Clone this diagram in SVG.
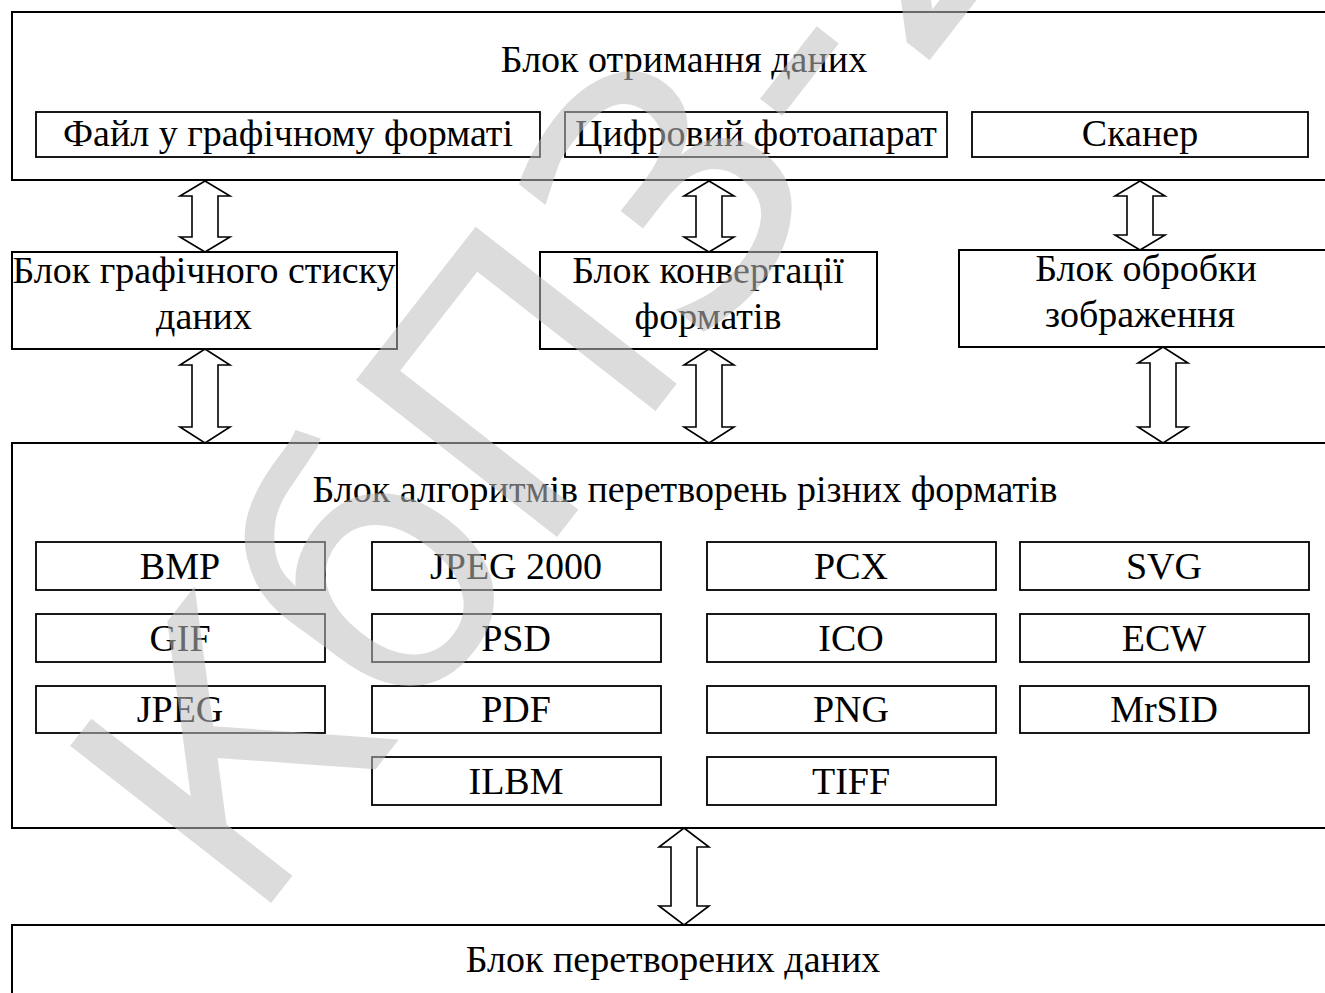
<svg xmlns="http://www.w3.org/2000/svg" width="1325" height="993" viewBox="0 0 1325 993">
<style>
.box{fill:#fff;stroke:#000;stroke-width:2}
.sbox{fill:#fff;stroke:#000;stroke-width:1.8}
.t{font-family:"Liberation Serif","Times New Roman",serif;font-size:38px;fill:#000;text-anchor:middle}
.arr{fill:#fff;stroke:#000;stroke-width:1.6;stroke-linejoin:miter}
.wm{font-family:"DejaVu Sans","Liberation Sans",sans-serif;font-size:350px;fill:#c0c0c0;opacity:0.55}
</style>
<rect width="1325" height="993" fill="#fff"/>

<g id="block-input">
<rect class="box" x="12" y="12" width="1330" height="168"/>
<text class="t" x="684" y="72">Блок отримання даних</text>
</g>
<g id="file">
<rect class="sbox" x="36" y="112" width="504" height="45"/>
<text class="t" x="288" y="146">Файл у графічному форматі</text>
</g>
<g id="camera">
<rect class="sbox" x="565" y="112" width="382" height="45"/>
<text class="t" x="756" y="146">Цифровий фотоапарат</text>
</g>
<g id="scanner">
<rect class="sbox" x="972" y="112" width="336" height="45"/>
<text class="t" x="1140" y="146">Сканер</text>
</g>

<g id="compress">
<rect class="box" x="12" y="252" width="385" height="97"/>
<text class="t" x="204" y="283">Блок графічного стиску</text>
<text class="t" x="204" y="329">даних</text>
</g>
<g id="convert">
<rect class="box" x="540" y="252" width="337" height="97"/>
<text class="t" x="708" y="283">Блок конвертації</text>
<text class="t" x="708" y="329">форматів</text>
</g>
<g id="process">
<rect class="box" x="959" y="250" width="380" height="97"/>
<text class="t" x="1146" y="281">Блок обробки</text>
<text class="t" x="1140" y="327">зображення</text>
</g>

<g id="algorithms">
<rect class="box" x="12" y="443" width="1330" height="385"/>
<text class="t" x="685" y="502">Блок алгоритмів перетворень різних форматів</text>
</g>
<g id="fmt-bmp"><rect class="sbox" x="36" y="542" width="289" height="48"/><text class="t" x="180" y="579">BMP</text></g>
<g id="fmt-jpeg2000"><rect class="sbox" x="372" y="542" width="289" height="48"/><text class="t" x="516" y="579">JPEG 2000</text></g>
<g id="fmt-pcx"><rect class="sbox" x="707" y="542" width="289" height="48"/><text class="t" x="851" y="579">PCX</text></g>
<g id="fmt-svg"><rect class="sbox" x="1020" y="542" width="289" height="48"/><text class="t" x="1164" y="579">SVG</text></g>
<g id="fmt-gif"><rect class="sbox" x="36" y="614" width="289" height="48"/><text class="t" x="180" y="651">GIF</text></g>
<g id="fmt-psd"><rect class="sbox" x="372" y="614" width="289" height="48"/><text class="t" x="516" y="651">PSD</text></g>
<g id="fmt-ico"><rect class="sbox" x="707" y="614" width="289" height="48"/><text class="t" x="851" y="651">ICO</text></g>
<g id="fmt-ecw"><rect class="sbox" x="1020" y="614" width="289" height="48"/><text class="t" x="1164" y="651">ECW</text></g>
<g id="fmt-jpeg"><rect class="sbox" x="36" y="686" width="289" height="47"/><text class="t" x="180" y="722">JPEG</text></g>
<g id="fmt-pdf"><rect class="sbox" x="372" y="686" width="289" height="47"/><text class="t" x="516" y="722">PDF</text></g>
<g id="fmt-png"><rect class="sbox" x="707" y="686" width="289" height="47"/><text class="t" x="851" y="722">PNG</text></g>
<g id="fmt-mrsid"><rect class="sbox" x="1020" y="686" width="289" height="47"/><text class="t" x="1164" y="722">MrSID</text></g>
<g id="fmt-ilbm"><rect class="sbox" x="372" y="757" width="289" height="48"/><text class="t" x="516" y="794">ILBM</text></g>
<g id="fmt-tiff"><rect class="sbox" x="707" y="757" width="289" height="48"/><text class="t" x="851" y="794">TIFF</text></g>

<g id="block-output">
<rect class="box" x="12" y="925" width="1330" height="100"/>
<text class="t" x="673" y="972">Блок перетворених даних</text>
</g>

<g id="connectors">
<path class="arr" d="M205,181 L230,196 L218,196 L218,237 L230,237 L205,252 L180,237 L192,237 L192,196 L180,196 Z"/>
<path class="arr" d="M709,181 L734,196 L722,196 L722,237 L734,237 L709,252 L684,237 L696,237 L696,196 L684,196 Z"/>
<path class="arr" d="M1140,181 L1165,196 L1153,196 L1153,235 L1165,235 L1140,250 L1115,235 L1127,235 L1127,196 L1115,196 Z"/>
<path class="arr" d="M205,349 L230,365 L218,365 L218,427 L230,427 L205,443 L180,427 L192,427 L192,365 L180,365 Z"/>
<path class="arr" d="M709,349 L734,365 L722,365 L722,427 L734,427 L709,443 L684,427 L696,427 L696,365 L684,365 Z"/>
<path class="arr" d="M1163,347 L1188,363 L1176,363 L1176,427 L1188,427 L1163,443 L1138,427 L1150,427 L1150,363 L1138,363 Z"/>
<path class="arr" d="M684,828 L709,847 L697,847 L697,906 L709,906 L684,925 L659,906 L671,906 L671,847 L659,847 Z"/>
</g>

<g id="watermark">
<text class="wm" transform="translate(250,930) rotate(-52)">КбПЗ-2023</text>
</g>
</svg>
